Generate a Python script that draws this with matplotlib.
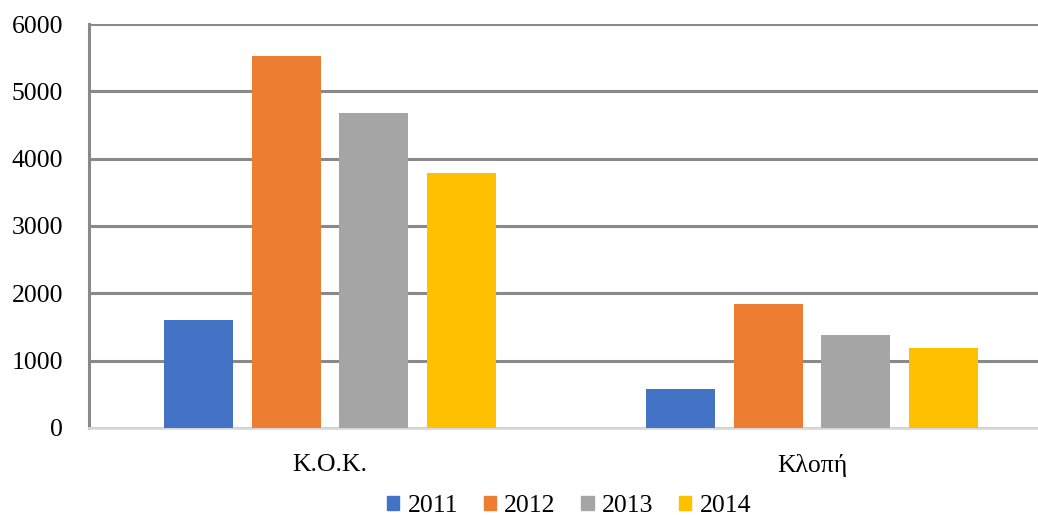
import matplotlib
matplotlib.use("Agg")
import matplotlib.pyplot as plt
import numpy as np
from matplotlib.patches import Patch

categories = ["K.O.K.", "Κλοπή"]
years = ["2011", "2012", "2013", "2014"]
values_2011 = [1600, 580]
values_2012 = [5520, 1840]
values_2013 = [4680, 1375]
values_2014 = [3790, 1190]
colors = ["#4472C4", "#ED7D31", "#A5A5A5", "#FFC000"]

series = [values_2011, values_2012, values_2013, values_2014]

plt.rcParams['font.family'] = ['Liberation Serif', 'DejaVu Serif']

W, H = 1038, 515
fig = plt.figure(figsize=(W/100, H/100), dpi=100)
ax = fig.add_axes([89/W, 1-428/H, (1053-89)/W, (428-24)/H])

x = np.arange(len(categories))
bw = 0.143
step = 0.1815
for i, (vals, c) in enumerate(zip(series, colors)):
    ax.bar(x + (i-1.5)*step, vals, width=bw, color=c, zorder=3, label=years[i])

ax.set_xlim(-0.5, 1.5)
ax.set_ylim(0, 6000)
ax.set_yticks(range(0, 6001, 1000))
ax.yaxis.grid(True, color="#898989", linewidth=2.2, zorder=0)
ax.set_axisbelow(True)
for s in ["top", "right"]:
    ax.spines[s].set_visible(False)
ax.spines["left"].set_color("#898989")
ax.spines["left"].set_linewidth(2.2)
ax.spines["bottom"].set_color("#D9D9D9")
ax.spines["bottom"].set_linewidth(2)
ax.set_xticks(x)
ax.set_xticklabels(categories)
ax.tick_params(axis="y", length=0, pad=18.5, labelsize=18.5)
ax.tick_params(axis="x", length=0, pad=19, labelsize=18.5)

handles = [Patch(color=c, label=y) for c, y in zip(colors, years)]
fig.legend(handles=handles, loc="center", bbox_to_anchor=(569/W, 1-506/H),
           ncol=4, frameon=False, fontsize=18.5, handlelength=0.48, handleheight=0.48,
           handletextpad=0.32, columnspacing=1.0, borderpad=0, borderaxespad=0)

fig.savefig("out.png", dpi=100)
